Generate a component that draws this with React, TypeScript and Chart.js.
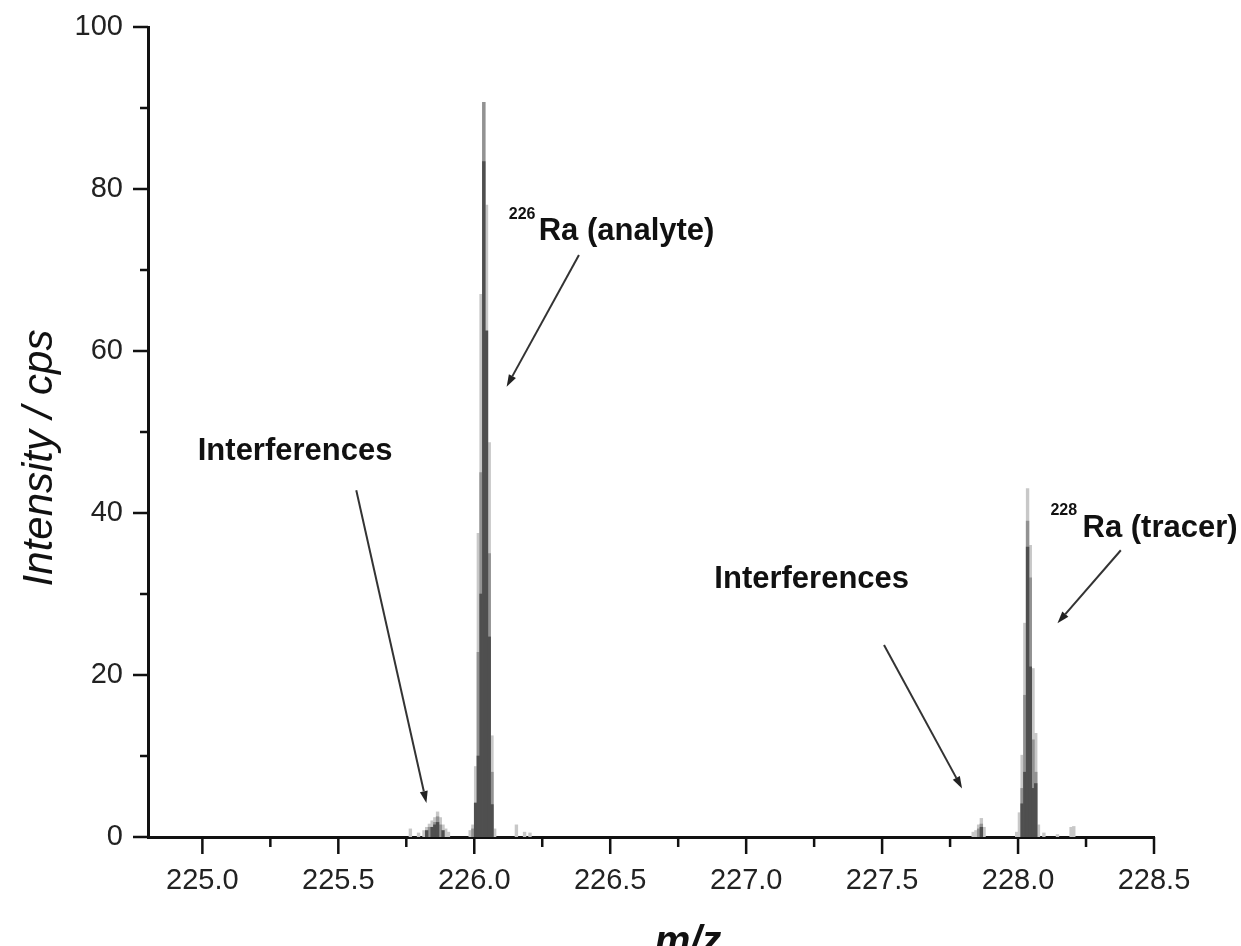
import React, { useEffect, useRef } from "react";
import { Chart, registerables } from "chart.js";

Chart.register(...registerables);

// ---------- data (m/z vs intensity, three overlaid scan shades) ----------
const lightMz = [225.765, 225.795, 225.815, 225.825, 225.835, 225.845, 225.855, 225.865, 225.875, 225.885, 225.895, 225.905,
  225.985, 225.995, 226.005, 226.015, 226.025, 226.035, 226.045, 226.055, 226.065, 226.075, 226.155, 226.185, 226.205,
  227.835, 227.845, 227.855, 227.865, 227.875, 227.995, 228.005, 228.015, 228.025, 228.035, 228.045, 228.055, 228.065, 228.075,
  228.095, 228.145, 228.195, 228.205];
const lightIntensity = [1.0, 0.5, 0.8, 1.2, 1.6, 2.0, 2.4, 3.1, 2.4, 1.5, 1.0, 0.6,
  0.8, 1.5, 8.7, 37.5, 67.0, 90.7, 78.0, 48.7, 12.5, 1.0, 1.5, 0.6, 0.5,
  0.6, 0.8, 1.5, 2.3, 1.2, 0.6, 3.0, 10.1, 26.4, 43.0, 36.0, 20.8, 12.8, 1.5,
  0.5, 0.3, 1.2, 1.3];

const midMz = [225.835, 225.855, 225.865, 225.875, 225.995, 226.015, 226.025, 226.035, 226.055, 226.065,
  227.855, 227.865, 228.015, 228.025, 228.035, 228.045, 228.055, 228.065];
const midIntensity = [1.2, 1.8, 2.5, 1.5, 1.0, 22.8, 45.0, 90.7, 35.0, 8.0,
  1.0, 1.6, 6.0, 17.5, 39.0, 32.0, 12.0, 8.0];

const darkMz = [225.825, 225.845, 225.855, 225.865, 225.885, 226.005, 226.015, 226.025, 226.035, 226.045, 226.055, 226.065,
  227.865, 228.015, 228.025, 228.035, 228.045, 228.055, 228.065];
const darkIntensity = [0.8, 1.2, 1.5, 1.8, 0.8, 4.2, 10.0, 30.0, 83.4, 62.5, 24.7, 4.0,
  1.2, 4.1, 8.0, 35.8, 21.0, 6.0, 6.6];

const xMajorTicks = [225.0, 225.5, 226.0, 226.5, 227.0, 227.5, 228.0, 228.5];
const xMinorTicks = [225.25, 225.75, 226.25, 226.75, 227.25, 227.75, 228.25];
const yMajorTicks = [0, 20, 40, 60, 80, 100];
const yMinorTicks = [10, 30, 50, 70, 90];

// annotation labels (data coordinates)
const labelTexts = ["Interferences", "Interferences", "Ra (analyte)", "Ra (tracer)"];
const labelSup = ["", "", "226", "228"];
const labelMz = [224.983, 226.883, 226.237, 228.237];
const labelY = [46.5, 30.7, 73.7, 37.0];
const supMz = [0, 0, 226.127, 228.119];
const supY = [0, 0, 76.3, 39.8];

// arrows: tail -> head (data coordinates)
const arrowFromMz = [225.566, 227.507, 226.385, 228.378];
const arrowFromY = [42.8, 23.7, 71.85, 35.4];
const arrowToMz = [225.824, 227.794, 226.119, 228.145];
const arrowToY = [4.2, 6.0, 55.6, 26.4];

const FONT = '"Liberation Sans", Arial, Helvetica, sans-serif';

function zip(xs: number[], ys: number[]) {
  return xs.map((x, i) => ({ x, y: ys[i] }));
}

const decorPlugin = {
  id: "decor",
  afterDraw(chart: any) {
    const { ctx, chartArea } = chart;
    const xs = chart.scales.x;
    const ys = chart.scales.y;
    ctx.save();
    // tick marks
    ctx.strokeStyle = "#111";
    ctx.lineWidth = 2.5;
    ctx.beginPath();
    yMajorTicks.forEach((v) => {
      const p = ys.getPixelForValue(v);
      ctx.moveTo(chartArea.left - 15, p);
      ctx.lineTo(chartArea.left, p);
    });
    yMinorTicks.forEach((v) => {
      const p = ys.getPixelForValue(v);
      ctx.moveTo(chartArea.left - 8, p);
      ctx.lineTo(chartArea.left, p);
    });
    xMajorTicks.forEach((v) => {
      const p = xs.getPixelForValue(v);
      ctx.moveTo(p, chartArea.bottom);
      ctx.lineTo(p, chartArea.bottom + 17);
    });
    xMinorTicks.forEach((v) => {
      const p = xs.getPixelForValue(v);
      ctx.moveTo(p, chartArea.bottom);
      ctx.lineTo(p, chartArea.bottom + 10);
    });
    ctx.stroke();

    // arrows
    ctx.strokeStyle = "#333";
    ctx.fillStyle = "#222";
    ctx.lineWidth = 2;
    arrowFromMz.forEach((_, i) => {
      const x1 = xs.getPixelForValue(arrowFromMz[i]);
      const y1 = ys.getPixelForValue(arrowFromY[i]);
      const x2 = xs.getPixelForValue(arrowToMz[i]);
      const y2 = ys.getPixelForValue(arrowToY[i]);
      const ang = Math.atan2(y2 - y1, x2 - x1);
      const hl = 12, hw = 4;
      const bx = x2 - hl * Math.cos(ang);
      const by = y2 - hl * Math.sin(ang);
      ctx.beginPath();
      ctx.moveTo(x1, y1);
      ctx.lineTo(bx, by);
      ctx.stroke();
      ctx.beginPath();
      ctx.moveTo(x2, y2);
      ctx.lineTo(bx + hw * Math.sin(ang), by - hw * Math.cos(ang));
      ctx.lineTo(bx - hw * Math.sin(ang), by + hw * Math.cos(ang));
      ctx.closePath();
      ctx.fill();
    });

    // labels
    ctx.fillStyle = "#111";
    ctx.textBaseline = "alphabetic";
    ctx.textAlign = "left";
    labelTexts.forEach((t, i) => {
      ctx.font = `bold 31px ${FONT}`;
      ctx.fillText(t, xs.getPixelForValue(labelMz[i]), ys.getPixelForValue(labelY[i]));
      if (labelSup[i]) {
        ctx.font = `bold 16px ${FONT}`;
        ctx.fillText(labelSup[i], xs.getPixelForValue(supMz[i]), ys.getPixelForValue(supY[i]));
      }
    });

    // axis titles
    ctx.fillStyle = "#111";
    ctx.font = `italic 42px ${FONT}`;
    ctx.textAlign = "center";
    ctx.textBaseline = "middle";
    ctx.save();
    ctx.translate(40, 458);
    ctx.rotate(-Math.PI / 2);
    ctx.fillText("Intensity / cps", 0, 0);
    ctx.restore();
    ctx.font = `italic bold 40px ${FONT}`;
    ctx.textBaseline = "alphabetic";
    ctx.fillText("m/z", 688, 954);
    ctx.restore();
  },
};

export default function App() {
  const ref = useRef<HTMLCanvasElement | null>(null);
  useEffect(() => {
    if (!ref.current) return;
    const common = { grouped: false, barPercentage: 1, categoryPercentage: 1, borderWidth: 0 };
    const chart = new Chart(ref.current, {
      type: "bar",
      data: {
        datasets: [
          { label: "dark", data: zip(darkMz, darkIntensity), backgroundColor: "#4f4f4f", order: 1, ...common },
          { label: "mid", data: zip(midMz, midIntensity), backgroundColor: "#929292", order: 2, ...common },
          { label: "light", data: zip(lightMz, lightIntensity), backgroundColor: "#c8c8c8", order: 3, ...common },
        ] as any,
      },
      options: {
        responsive: false,
        animation: false,
        devicePixelRatio: 1,
        layout: { padding: { top: 27, right: 87, left: 0, bottom: 0 } },
        plugins: { legend: { display: false }, tooltip: { enabled: false } },
        scales: {
          x: {
            type: "linear",
            min: 224.8,
            max: 228.5,
            offset: false,
            grid: { display: false, drawTicks: false },
            border: { display: true, color: "#111", width: 3 },
            afterBuildTicks: (s: any) => {
              s.ticks = xMajorTicks.map((v) => ({ value: v }));
            },
            afterFit: (s: any) => {
              s.height = 109;
            },
            ticks: {
              padding: 27,
              color: "#222",
              font: { family: FONT, size: 29 },
              maxRotation: 0,
              autoSkip: false,
              callback: (v: any) => Number(v).toFixed(1),
            },
          },
          y: {
            type: "linear",
            min: 0,
            max: 100,
            grid: { display: false, drawTicks: false },
            border: { display: true, color: "#111", width: 3 },
            afterBuildTicks: (s: any) => {
              s.ticks = yMajorTicks.map((v) => ({ value: v }));
            },
            afterFit: (s: any) => {
              s.width = 148;
              s.paddingTop = 0;
              s.paddingBottom = 0;
            },
            ticks: {
              padding: 25,
              color: "#222",
              font: { family: FONT, size: 29 },
              autoSkip: false,
              callback: (v: any) => String(v),
            },
          },
        },
      } as any,
      plugins: [decorPlugin],
    });
    return () => chart.destroy();
  }, []);
  return (
    <canvas
      ref={ref}
      width={1241}
      height={946}
      style={{ position: "fixed", left: 0, top: 0, width: 1241, height: 946, background: "#fff" }}
    />
  );
}
